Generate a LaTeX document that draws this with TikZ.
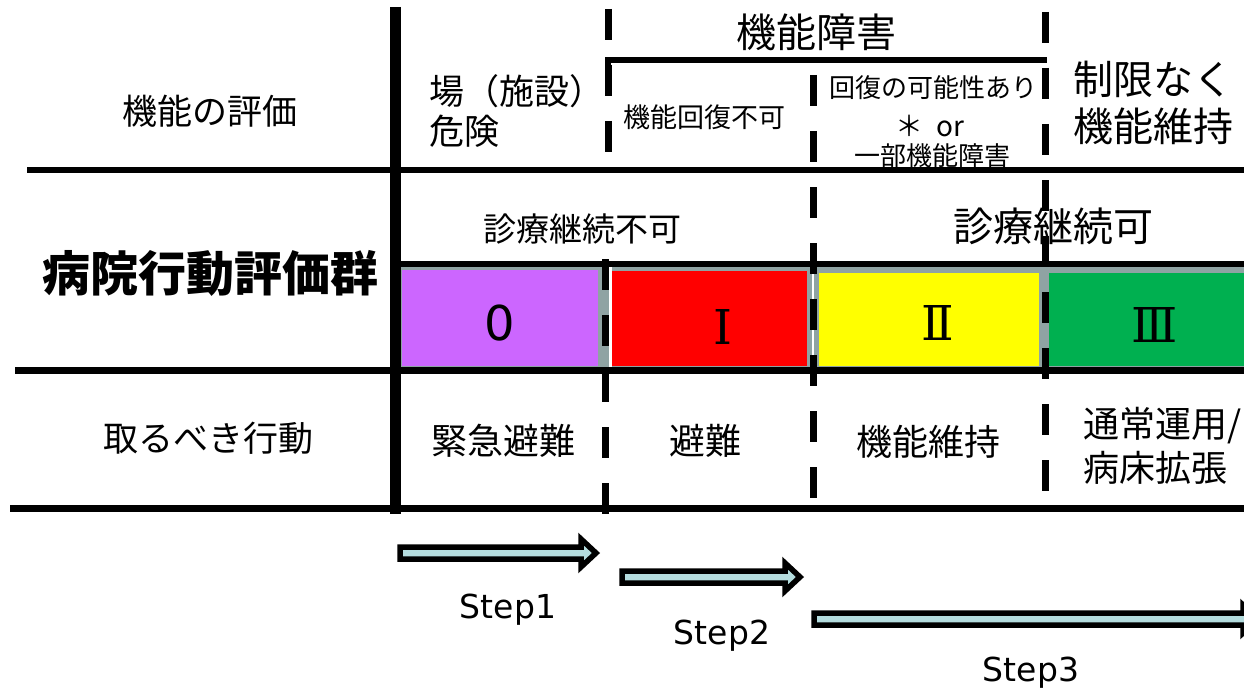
\documentclass[tikz,border=0pt]{standalone}
\usepackage{fontspec}
\setmainfont{DejaVu Sans}
\newfontfamily\jp{Noto Sans CJK JP}
\newfontfamily\rn{DejaVu Serif}
\newfontfamily\vd{DejaVu Sans}
\definecolor{cpurple}{HTML}{CC66FF}
\definecolor{cred}{HTML}{FF0000}
\definecolor{cyellow}{HTML}{FFFF00}
\definecolor{cgreen}{HTML}{00B050}
\definecolor{cgray}{HTML}{8FA3A3}
\definecolor{cblue}{HTML}{B4DCDE}
\newcommand\fsz[1]{\fontsize{#1}{#1}\selectfont}
\newcommand\steparrowpath[4]{%
  \draw[steparrow] ({#2+3},{#4-6}) -- ({#3-19},{#4-6}) -- ({#3-19},{#4-14}) -- ({#3-4},{#4}) -- ({#3-19},{#4+14}) -- ({#3-19},{#4+6}) -- ({#2+3},{#4+6}) -- cycle;
  \coordinate (#1) at ({(#2+#3)/2},#4);}
\tikzset{
  rule/.style={line width=6pt, black},
  rulethick/.style={line width=7pt, black},
  dashrule/.style={line width=7pt, black, dash pattern=on 31pt off 25pt},
  jptext/.style={inner sep=0pt, font=\jp},
  lbl/.style={inner sep=0pt},
  steparrow/.style={draw=black, fill=cblue, line width=5.5pt, line join=miter, miter limit=10},
}
\begin{document}
\begin{tikzpicture}[x=1pt,y=-1pt]
\useasboundingbox (0,0) rectangle (1244,690);
% colour band
\fill[cgray] (400,266) rectangle (1244,368);
\fill[cpurple] (402,270) rectangle (598,366);
\fill[cred] (612,271) rectangle (807,366);
\fill[cyellow] (819,273) rectangle (1039,366);
\fill[cgreen] (1049,273) rectangle (1244,366);
\fill[white] (609,267) rectangle (611.5,368);
\fill[white] (812.3,267) rectangle (813.8,368);
% dashed verticals
\draw[dashrule] (608,9) -- (608,153);
\draw[dashrule] (605,259) -- (605,515);
\draw[dashrule] (813,75) -- (813,499);
\draw[dashrule] (1045,12) -- (1045,492);
% horizontal rules
\draw[rule, line join=miter] (608,68) -- (608,60) -- (1047,60);
\draw[rule] (27,170) -- (1244,170);
\draw[rule] (395,264) -- (1244,264);
\draw[rulethick] (15,370) -- (1244,370);
\draw[rulethick] (10,508) -- (1244,508);
% solid vertical
\draw[line width=11pt] (395,7) -- (395,514);
% left column
\node[jptext, font=\jp\fsz{35}] (lbleval) at (210,111) {機能の評価};
\node[jptext, font=\jp\bfseries\fsz{48}] (lblgroup) at (210,273) {病院行動評価群};
\node[jptext, font=\jp\fsz{35}] (lblact) at (208,438) {取るべき行動};
% top row
\node[jptext, font=\jp\fontsize{35}{40}\selectfont, align=left, anchor=west] (danger) at (429,111) {場（施設）\\危険};
\node[jptext, font=\jp\fsz{40}] (impair) at (816,32) {機能障害};
\node[jptext, font=\jp\fsz{27}] (norecov) at (704,117) {機能回復不可};
\node[jptext, font=\jp\fsz{26}] (recov1) at (933,88) {回復の可能性あり};
\node[jptext, font=\jp\fsz{28}] (recov2) at (930,126) {＊\ \ or};
\node[jptext, font=\jp\fsz{26}] (recov3) at (932,156) {一部機能障害};
\node[jptext, font=\jp\fontsize{40}{47}\selectfont, align=left, anchor=west] (nolimit) at (1073,103) {制限なく\\機能維持};
% second row
\node[jptext, font=\jp\fsz{33}] (nocare) at (582,229) {診療継続不可};
\node[jptext, font=\jp\fsz{40}] (care) at (1053,226) {診療継続可};
% band labels
\node[lbl, font=\vd\fsz{48}] (g0) at (500,323) {0};
\node[lbl, font=\rn\fsz{48}] (g1) at (723,327) {Ⅰ};
\node[lbl, font=\rn\fsz{48}] (g2) at (938,323) {Ⅱ};
\node[lbl, font=\rn\fsz{48}] (g3) at (1155,325) {Ⅲ};
% action row
\node[jptext, font=\jp\fsz{36}] (act0) at (503,441) {緊急避難};
\node[jptext, font=\jp\fsz{36}] (act1) at (705,441) {避難};
\node[jptext, font=\jp\fsz{36}] (act2) at (928,442) {機能維持};
\node[jptext, font=\jp\fontsize{36}{44}\selectfont, align=left, anchor=west] (act3) at (1083,446) {通常運用/\\病床拡張};
% step arrows
\steparrowpath{a1}{397}{600}{553}
\steparrowpath{a2}{619}{804}{577}
\steparrowpath{a3}{811}{1262}{619}
\node[lbl, font=\vd\fsz{33}] (s1) at (508,610) {Step1};
\node[lbl, font=\vd\fsz{33}] (s2) at (722,636) {Step2};
\node[lbl, font=\vd\fsz{33}] (s3) at (1031,673) {Step3};
\end{tikzpicture}
\end{document}
